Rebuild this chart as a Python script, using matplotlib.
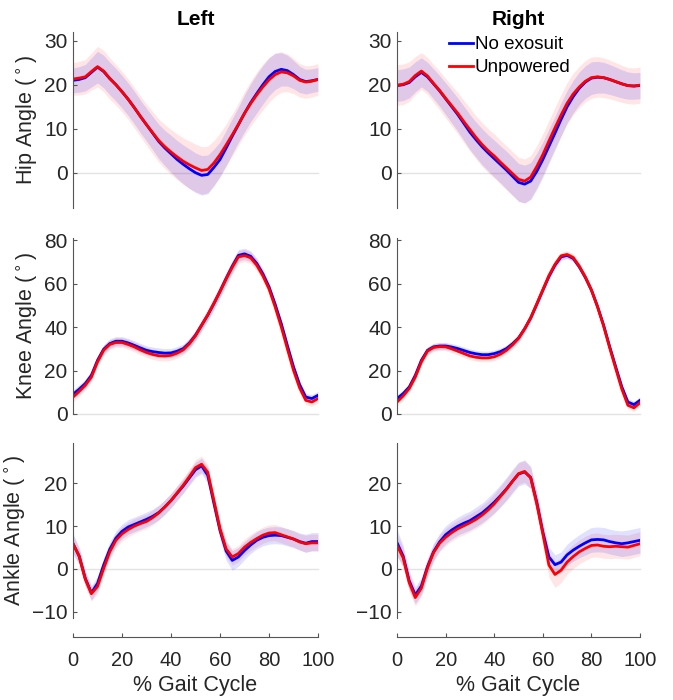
import matplotlib
matplotlib.use('Agg')
import matplotlib.pyplot as plt
import numpy as np

plt.rcParams['font.family'] = ['Liberation Sans', 'DejaVu Sans']

# % gait cycle, sampled every 2.5 %
pct = np.linspace(0, 100, 41)

# hip angle, left / right
hip_l_no = [21.0, 21.2, 21.6, 22.8, 24.0, 23.0, 21.4, 20.0, 18.4, 16.7, 14.8, 12.8, 10.9, 9.0, 7.1, 5.6, 4.3, 3.0, 1.9, 0.9,
            0.0, -0.6, -0.4, 1.2, 3.0, 5.6, 8.3, 10.9, 13.5, 15.9, 18.0, 20.0, 21.8, 23.0, 23.5, 23.2, 22.3, 21.2, 20.7, 20.9, 21.2]
hip_l_un = [21.3, 21.5, 21.8, 23.0, 24.1, 23.1, 21.4, 20.0, 18.4, 16.7, 14.8, 12.8, 10.9, 9.1, 7.3, 5.9, 4.7, 3.6, 2.6, 1.8,
            1.1, 0.5, 0.75, 2.2, 4.1, 6.3, 8.6, 11.0, 13.5, 15.7, 17.7, 19.5, 21.1, 22.3, 22.9, 22.7, 22.0, 21.0, 20.6, 20.8, 21.2]
hip_l_no_sd = [2.8, 2.9, 3.0, 3.3, 3.6, 3.7, 3.7, 3.7, 3.7, 3.7, 3.7, 3.7, 3.7, 3.8, 3.9, 4.0, 4.2, 4.3, 4.4, 4.5,
               4.5, 4.5, 4.4, 4.2, 4.0, 4.0, 4.0, 4.0, 4.2, 4.3, 4.4, 4.4, 4.3, 4.1, 3.8, 3.5, 3.2, 3.0, 2.8, 2.7, 2.7]
hip_l_un_sd = [3.7, 3.8, 3.9, 4.2, 4.6, 4.7, 4.7, 4.6, 4.6, 4.6, 4.6, 4.6, 4.7, 4.8, 4.9, 5.0, 5.1, 5.2, 5.3, 5.4,
               5.4, 5.4, 5.3, 5.1, 4.9, 4.8, 4.8, 4.8, 5.0, 5.1, 5.2, 5.2, 5.1, 4.9, 4.6, 4.3, 4.0, 3.8, 3.7, 3.6, 3.6]
hip_r_no = [19.8, 20.0, 20.5, 21.8, 22.8, 21.8, 20.2, 18.6, 16.8, 15.0, 13.2, 11.2, 9.2, 7.5, 5.9, 4.5, 3.2, 1.9, 0.6, -0.8,
            -2.2, -2.6, -1.9, 0.3, 3.0, 6.0, 9.0, 12.1, 15.0, 17.3, 19.2, 20.6, 21.5, 21.7, 21.6, 21.2, 20.7, 20.2, 19.8, 19.7, 19.8]
hip_r_un = [19.9, 20.1, 20.7, 22.1, 23.1, 22.0, 20.3, 18.7, 16.9, 15.2, 13.5, 11.6, 9.8, 8.0, 6.4, 5.0, 3.8, 2.4, 1.1, -0.2,
            -1.5, -1.9, -1.0, 1.4, 4.1, 7.2, 10.2, 13.1, 15.8, 17.9, 19.5, 20.8, 21.6, 21.8, 21.6, 21.2, 20.7, 20.2, 19.8, 19.7, 19.9]
hip_r_no_sd = [3.6, 3.6, 3.5, 3.4, 3.3, 3.3, 3.4, 3.5, 3.6, 3.7, 3.8, 3.9, 4.0, 4.0, 4.1, 4.1, 4.2, 4.2, 4.3, 4.3,
               4.3, 4.3, 4.2, 4.1, 4.0, 3.9, 3.8, 3.8, 3.7, 3.7, 3.7, 3.7, 3.7, 3.6, 3.5, 3.4, 3.3, 3.2, 3.1, 3.0, 3.0]
hip_r_un_sd = [4.6, 4.6, 4.5, 4.3, 4.2, 4.2, 4.3, 4.4, 4.5, 4.6, 4.7, 4.8, 4.9, 4.9, 5.0, 5.0, 5.0, 5.0, 5.0, 5.0,
               5.0, 5.0, 4.9, 4.8, 4.7, 4.7, 4.7, 4.7, 4.7, 4.7, 4.7, 4.7, 4.7, 4.6, 4.5, 4.4, 4.3, 4.2, 4.1, 4.1, 4.1]

# knee angle, left / right
knee_l_no = [9.1, 11.4, 14.0, 17.8, 24.7, 29.8, 32.4, 33.5, 33.5, 32.7, 31.6, 30.4, 29.3, 28.7, 28.3, 28.0, 28.1, 28.9, 30.1, 32.7,
             36.3, 40.9, 45.5, 50.8, 56.5, 62.4, 68.0, 73.0, 73.7, 72.6, 69.3, 64.5, 58.5, 50.5, 41.6, 31.5, 21.7, 13.5, 7.8, 7.1, 8.6]
knee_l_un = [7.8, 10.4, 13.2, 17.0, 24.0, 29.3, 32.0, 32.9, 32.9, 32.0, 30.9, 29.5, 28.3, 27.4, 26.8, 26.7, 27.0, 28.0, 29.5, 32.3,
             36.0, 40.8, 45.6, 50.9, 56.3, 62.1, 67.5, 72.3, 72.9, 71.9, 68.5, 63.6, 57.6, 49.3, 40.1, 30.0, 20.1, 12.0, 6.3, 5.5, 7.1]
knee_l_no_sd = [2.0, 2.0, 2.0, 2.0, 2.0, 2.1, 2.1, 2.1, 2.1, 2.1, 2.1, 2.1, 2.1, 2.1, 2.1, 2.1, 2.1, 2.1, 2.1, 2.2,
                2.2, 2.3, 2.4, 2.5, 2.6, 2.7, 2.7, 2.7, 2.6, 2.5, 2.4, 2.2, 2.0, 1.9, 1.8, 1.8, 1.8, 1.8, 1.8, 1.8, 1.8]
knee_l_un_sd = [2.2, 2.2, 2.2, 2.2, 2.2, 2.3, 2.3, 2.3, 2.3, 2.3, 2.3, 2.3, 2.3, 2.3, 2.3, 2.3, 2.3, 2.3, 2.3, 2.4,
                2.4, 2.5, 2.6, 2.7, 2.8, 2.9, 2.9, 2.9, 2.8, 2.7, 2.6, 2.4, 2.2, 2.1, 2.0, 2.0, 2.0, 2.0, 2.0, 2.0, 2.0]
knee_r_no = [7.1, 9.4, 12.4, 17.8, 24.7, 29.3, 30.9, 31.3, 31.3, 30.8, 30.1, 29.2, 28.3, 27.7, 27.3, 27.3, 27.8, 28.7, 30.1, 32.3,
             35.0, 39.2, 44.2, 50.5, 57.0, 63.3, 68.5, 72.3, 73.0, 71.6, 67.7, 62.8, 57.0, 49.5, 40.9, 31.0, 21.7, 12.5, 5.5, 4.3, 6.3]
knee_r_un = [5.5, 8.3, 11.7, 17.0, 24.0, 28.9, 30.6, 31.0, 30.9, 30.0, 28.9, 27.8, 26.7, 26.1, 25.8, 25.8, 26.3, 27.5, 29.3, 31.8,
             34.8, 39.2, 44.3, 50.7, 57.2, 63.7, 68.9, 72.8, 73.4, 72.0, 68.0, 63.0, 57.0, 49.3, 40.5, 30.5, 20.9, 11.5, 4.0, 2.8, 5.2]
knee_r_no_sd = [1.6, 1.6, 1.6, 1.6, 1.6, 1.6, 1.6, 1.6, 1.6, 1.6, 1.6, 1.6, 1.6, 1.6, 1.6, 1.6, 1.6, 1.6, 1.6, 1.6,
                1.6, 1.6, 1.6, 1.5, 1.5, 1.5, 1.5, 1.5, 1.5, 1.5, 1.5, 1.5, 1.5, 1.5, 1.5, 1.5, 1.5, 1.5, 1.5, 1.5, 1.5]
knee_r_un_sd = [1.8, 1.8, 1.8, 1.8, 1.8, 1.8, 1.8, 1.8, 1.8, 1.8, 1.8, 1.8, 1.8, 1.8, 1.8, 1.8, 1.8, 1.8, 1.8, 1.8,
                1.8, 1.8, 1.7, 1.7, 1.7, 1.7, 1.7, 1.7, 1.7, 1.7, 1.7, 1.7, 1.7, 1.7, 1.7, 1.7, 1.7, 1.7, 1.7, 1.7, 1.7]

# ankle angle, left / right
ankle_l_no = [5.9, 3.0, -2.2, -5.6, -3.4, 0.9, 4.6, 7.2, 8.8, 9.8, 10.4, 11.0, 11.6, 12.3, 13.2, 14.5, 16.0, 17.7, 19.4, 21.3,
              23.2, 24.1, 21.9, 15.4, 9.0, 4.2, 2.0, 2.8, 4.3, 5.6, 6.7, 7.4, 7.8, 7.9, 7.8, 7.4, 7.0, 6.4, 6.0, 6.4, 6.4]
ankle_l_un = [5.9, 3.0, -2.4, -5.8, -4.1, 0.1, 4.0, 6.7, 8.2, 9.2, 10.0, 10.6, 11.1, 12.0, 13.1, 14.5, 16.0, 17.8, 19.6, 21.6,
              23.7, 24.5, 22.6, 16.0, 9.4, 4.7, 2.8, 3.6, 5.1, 6.2, 7.1, 7.9, 8.4, 8.5, 8.0, 7.5, 7.0, 6.3, 5.9, 6.1, 6.1]
ankle_l_no_sd = [2.4, 2.0, 1.8, 1.7, 1.7, 1.7, 1.7, 1.7, 1.7, 1.7, 1.7, 1.7, 1.7, 1.7, 1.7, 1.7, 1.7, 1.7, 1.7, 1.7,
                 1.8, 1.8, 1.9, 2.0, 2.1, 2.2, 2.3, 2.2, 2.1, 2.0, 2.0, 2.0, 2.0, 2.0, 2.0, 2.0, 2.0, 2.0, 2.1, 2.1, 2.1]
ankle_l_un_sd = [2.0, 1.8, 1.7, 1.7, 1.7, 1.7, 1.7, 1.7, 1.7, 1.7, 1.7, 1.7, 1.7, 1.7, 1.7, 1.7, 1.7, 1.7, 1.7, 1.8,
                 1.9, 1.9, 1.9, 1.9, 1.9, 1.9, 1.9, 1.9, 1.9, 1.9, 1.9, 1.9, 1.9, 1.9, 1.9, 1.9, 1.9, 1.9, 2.0, 2.0, 2.0]
ankle_r_no = [6.1, 3.0, -2.8, -6.1, -4.0, 0.5, 4.0, 6.3, 8.0, 9.1, 10.0, 10.7, 11.3, 12.2, 13.1, 14.3, 15.6, 17.1, 18.7, 20.5,
              22.2, 22.7, 21.4, 15.6, 8.6, 2.8, 1.0, 1.6, 3.3, 4.4, 5.3, 6.1, 6.8, 6.9, 6.8, 6.4, 6.1, 5.9, 6.1, 6.4, 6.7]
ankle_r_un = [5.5, 2.6, -3.2, -6.7, -4.5, 0.2, 3.8, 6.0, 7.4, 8.5, 9.4, 10.1, 10.8, 11.6, 12.6, 13.8, 15.2, 16.9, 18.6, 20.5,
              22.3, 22.8, 21.3, 15.3, 8.2, 0.9, -1.3, -0.3, 1.6, 2.9, 4.0, 4.8, 5.5, 5.6, 5.3, 5.2, 5.3, 5.2, 5.1, 5.5, 5.9]
ankle_r_no_sd = [3.0, 2.5, 2.2, 2.0, 2.0, 2.0, 2.0, 2.0, 2.1, 2.1, 2.1, 2.2, 2.2, 2.3, 2.3, 2.4, 2.5, 2.6, 2.7, 2.8,
                 2.8, 2.8, 2.6, 2.4, 2.3, 2.3, 2.3, 2.4, 2.5, 2.6, 2.7, 2.8, 2.9, 2.9, 2.9, 2.9, 2.9, 3.0, 3.0, 3.0, 3.0]
ankle_r_un_sd = [2.6, 2.2, 2.0, 2.0, 2.0, 2.0, 2.0, 2.0, 2.0, 2.0, 2.0, 2.1, 2.1, 2.1, 2.2, 2.2, 2.3, 2.4, 2.5, 2.5,
                 2.5, 2.5, 2.5, 2.5, 2.5, 2.8, 3.0, 2.9, 2.8, 2.8, 2.8, 2.8, 2.8, 2.8, 2.8, 2.8, 2.8, 2.8, 2.8, 2.8, 2.8]

sides = ['Left', 'Right']
row_labels = ['Hip Angle', 'Knee Angle', 'Ankle Angle']
series_names = ['No exosuit', 'Unpowered']
row_ylims = [(-8, 32), (0, 81), (-11.5, 29.5)]
row_yticks = [[0, 10, 20, 30], [0, 20, 40, 60, 80], [-10, 0, 10, 20]]
gait_ticks = [0, 20, 40, 60, 80, 100]

panels = [
    [(hip_l_no, hip_l_no_sd, hip_l_un, hip_l_un_sd), (hip_r_no, hip_r_no_sd, hip_r_un, hip_r_un_sd)],
    [(knee_l_no, knee_l_no_sd, knee_l_un, knee_l_un_sd), (knee_r_no, knee_r_no_sd, knee_r_un, knee_r_un_sd)],
    [(ankle_l_no, ankle_l_no_sd, ankle_l_un, ankle_l_un_sd), (ankle_r_no, ankle_r_no_sd, ankle_r_un, ankle_r_un_sd)],
]

blue = '#0000ff'
red = '#ff0000'
txt = '#262626'
axcol = '#555555'

fig = plt.figure(figsize=(6.73, 7.0), dpi=100)
col_left = [0.1085, 0.590]
col_w = [0.364, 0.361]
row_bottom = [0.703, 0.4086, 0.117]
row_h = [0.2514, 0.2514, 0.2504]

for r in range(3):
    for c in range(2):
        ax = fig.add_axes([col_left[c], row_bottom[r], col_w[c], row_h[r]])
        no, no_sd, un, un_sd = [np.array(a) for a in panels[r][c]]

        ax.axhline(0, color='#e3e3e3', lw=1.0, zorder=0, clip_on=False)
        ax.fill_between(pct, un - un_sd, un + un_sd, color=red, alpha=0.10, lw=0)
        ax.fill_between(pct, no - no_sd, no + no_sd, color=blue, alpha=0.12, lw=0)
        ax.plot(pct, no, color=blue, lw=2.0, label=series_names[0])
        ax.plot(pct, un, color=red, lw=2.0, label=series_names[1])

        ax.set_xlim(0, 100)
        ax.set_ylim(*row_ylims[r])
        ax.set_yticks(row_yticks[r])
        ax.spines['top'].set_visible(False)
        ax.spines['right'].set_visible(False)
        ax.spines['left'].set_color(axcol)
        ax.tick_params(axis='y', direction='in', length=3, labelsize=15, colors=axcol, labelcolor=txt, pad=4)

        if r < 2:
            ax.spines['bottom'].set_visible(False)
            ax.set_xticks([])
        else:
            ax.spines['bottom'].set_position(('outward', 13.5))
            ax.spines['bottom'].set_color(axcol)
            ax.set_xticks(gait_ticks)
            ax.tick_params(axis='x', direction='in', length=3, labelsize=14.5, colors=axcol, labelcolor=txt, pad=10)
            ax.set_xlabel('% Gait Cycle', fontsize=15.5, color=txt, labelpad=4)

        if c == 0:
            ax.set_ylabel(row_labels[r] + r' ($^\circ$)', fontsize=15.5, color=txt, labelpad=3)
        if r == 0:
            ax.set_title(sides[c], fontsize=15, fontweight='bold', color='black', pad=5)
        if r == 0 and c == 1:
            ax.legend(loc='upper left', bbox_to_anchor=(0.215, 0.975), frameon=False, fontsize=13.5,
                      handlelength=1.25, handletextpad=0.1, labelspacing=0.3, borderpad=0, borderaxespad=0)

fig.savefig('out.png', dpi=100)
